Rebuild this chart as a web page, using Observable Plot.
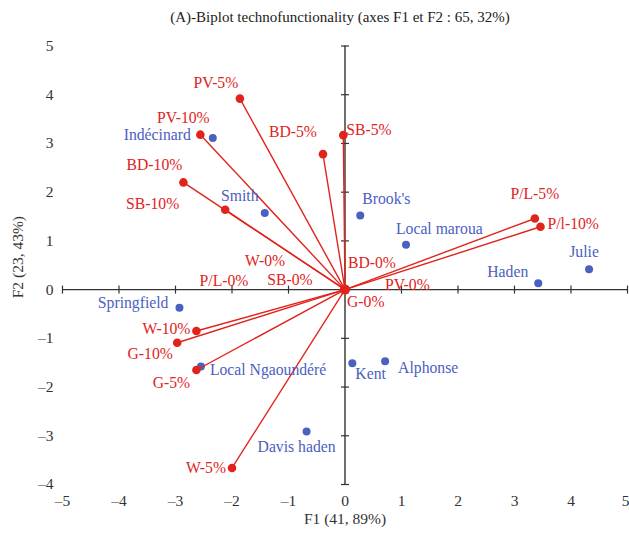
<!DOCTYPE html>
<html>
<head>
<meta charset="utf-8">
<script src="https://cdn.jsdelivr.net/npm/d3@7"></script>
<script src="https://cdn.jsdelivr.net/npm/@observablehq/plot@0.6"></script>
<style>
  html, body { margin: 0; padding: 0; background: #fff; }
  #title { width: 629px; height: 30px; box-sizing: border-box; padding-left: 51px; text-align: center;
    font-family: "Liberation Serif", serif; font-size: 15px; line-height: 35px; color: #222; }
  svg { display: block; }
</style>
</head>
<body>
<div id="title">(A)-Biplot technofunctionality (axes F1 et F2 : 65, 32%)</div>
<div id="chart"></div>
<script>
// Variables (red vectors)
const varNames = ["PV-5%","PV-10%","BD-10%","SB-10%","BD-5%","SB-5%","P/L-5%","P/l-10%","W-10%","G-10%","G-5%","W-5%","W-0%","P/L-0%","SB-0%","BD-0%","PV-0%","G-0%"];
const varF1 = [-1.86,-2.56,-2.86,-2.12,-0.39,-0.03,3.36,3.46,-2.63,-2.97,-2.63,-2.00,0,0,0,0,0,0];
const varF2 = [3.92,3.18,2.20,1.64,2.78,3.17,1.46,1.29,-0.85,-1.09,-1.65,-3.66,0,0,0,0,0,0];

// Observations (blue points)
const obsNames = ["Indécinard","Smith","Brook's","Local maroua","Julie","Haden","Springfield","Local Ngaoundéré","Davis haden","Kent","Alphonse"];
const obsF1 = [-2.34,-1.42,0.27,1.08,4.32,3.42,-2.93,-2.55,-0.68,0.13,0.71];
const obsF2 = [3.11,1.57,1.52,0.92,0.42,0.13,-0.37,-1.58,-2.91,-1.51,-1.47];

// Axis ticks
const xTicks = [-5,-4,-3,-2,-1,0,1,2,3,4,5];
const yTicks = [-4,-3,-2,-1,0,1,2,3,4,5];

// Label placement (anchor, dx, dy) in pixels
const labelPos = {
  "PV-5%": ["middle",-24,-16], "PV-10%": ["middle",-17,-17], "BD-10%": ["middle",-29,-17],
  "SB-10%": ["end",-46,-6], "BD-5%": ["middle",-30,-22], "SB-5%": ["start",3,-5],
  "P/L-5%": ["middle",0,-25], "P/l-10%": ["start",7,-3], "W-10%": ["end",-6,-2],
  "G-10%": ["middle",-27,11], "G-5%": ["middle",-25,13], "W-5%": ["end",-6,0],
  "W-0%": ["middle",-80,-29], "P/L-0%": ["middle",-121,-9], "SB-0%": ["middle",-55,-10],
  "BD-0%": ["start",3,-27], "PV-0%": ["start",40,-5], "G-0%": ["start",2,12],
  "Indécinard": ["end",-22,-3], "Smith": ["middle",-25,-17], "Brook's": ["start",2,-17],
  "Local maroua": ["start",-10,-16], "Julie": ["middle",-5,-17], "Haden": ["end",-10,-11],
  "Springfield": ["end",-11,-5], "Local Ngaoundéré": ["start",9,3], "Davis haden": ["start",-49,16],
  "Kent": ["start",3,11], "Alphonse": ["start",13,7]
};

const RED = "#e0241c", BLUE = "#4b61c0", AX = "#333";
const vars = varNames.map((n,i) => ({name:n, x:varF1[i], y:varF2[i]}));
const obs = obsNames.map((n,i) => ({name:n, x:obsF1[i], y:obsF2[i]}));

const vTick = {draw(ctx){ ctx.moveTo(0,-4); ctx.lineTo(0,4); }};
const hTick = {draw(ctx){ ctx.moveTo(-4,0); ctx.lineTo(4,0); }};

const textMarks = [];
for (const [data, color] of [[obs, BLUE],[vars, RED]]) {
  for (const d of data) {
    const [a, dx, dy] = labelPos[d.name];
    textMarks.push(Plot.text([d], {x:"x", y:"y", text:"name", fill: color, textAnchor: a, dx, dy, fontSize: 15.7}));
  }
}

const fmt = d => d < 0 ? "\u2013" + (-d) : String(d);
const xMax = xTicks[xTicks.length - 1];

const chart = Plot.plot({
  width: 629,
  height: 503,
  marginLeft: 62,
  marginRight: 2,
  marginTop: 15.5,
  marginBottom: 49,
  style: {fontFamily: "'Liberation Serif', serif", fontSize: "15px", background: "#fff"},
  x: {domain: [-5, 5], axis: null},
  y: {domain: [-4, 5], axis: null},
  marks: [
    Plot.ruleY([0], {x1: -5, x2: 5, stroke: AX, strokeWidth: 1.4}),
    Plot.ruleX([0], {y1: -4, y2: 5, stroke: AX, strokeWidth: 1.4}),
    Plot.dot(xTicks, {x: d => d, y: 0, symbol: vTick, stroke: AX, strokeWidth: 1.2, r: 4}),
    Plot.dot(yTicks, {x: 0, y: d => d, symbol: hTick, stroke: AX, strokeWidth: 1.2, r: 4}),
    Plot.text(xTicks.filter(d => d !== xMax), {x: d => d, y: -4, text: fmt, dy: 17, fill: AX, fontSize: 15.5}),
    Plot.text([xMax], {x: d => d, y: -4, text: fmt, dy: 17, dx: -2, textAnchor: "middle", fill: AX, fontSize: 15.5}),
    Plot.text(yTicks, {x: -5, y: d => d, text: fmt, dx: -9, textAnchor: "end", fill: AX, fontSize: 15.5}),
    Plot.text(["F1 (41, 89%)"], {frameAnchor: "bottom", dy: 39, fill: AX, fontSize: 15.5}),
    Plot.text(["F2 (23, 43%)"], {frameAnchor: "left", dx: -44, dy: 33, rotate: -90, fill: AX, fontSize: 15.5}),
    Plot.dot(obs, {x: "x", y: "y", r: 4, fill: BLUE}),
    Plot.link(vars, {x1: 0, y1: 0, x2: "x", y2: "y", stroke: RED, strokeWidth: 1.4}),
    Plot.dot(vars, {x: "x", y: "y", r: 4.3, fill: RED}),
    Plot.dot([0], {x: 0, y: 0, r: 5, fill: RED}),
    ...textMarks
  ]
});
document.getElementById("chart").appendChild(chart);
</script>
</body>
</html>
